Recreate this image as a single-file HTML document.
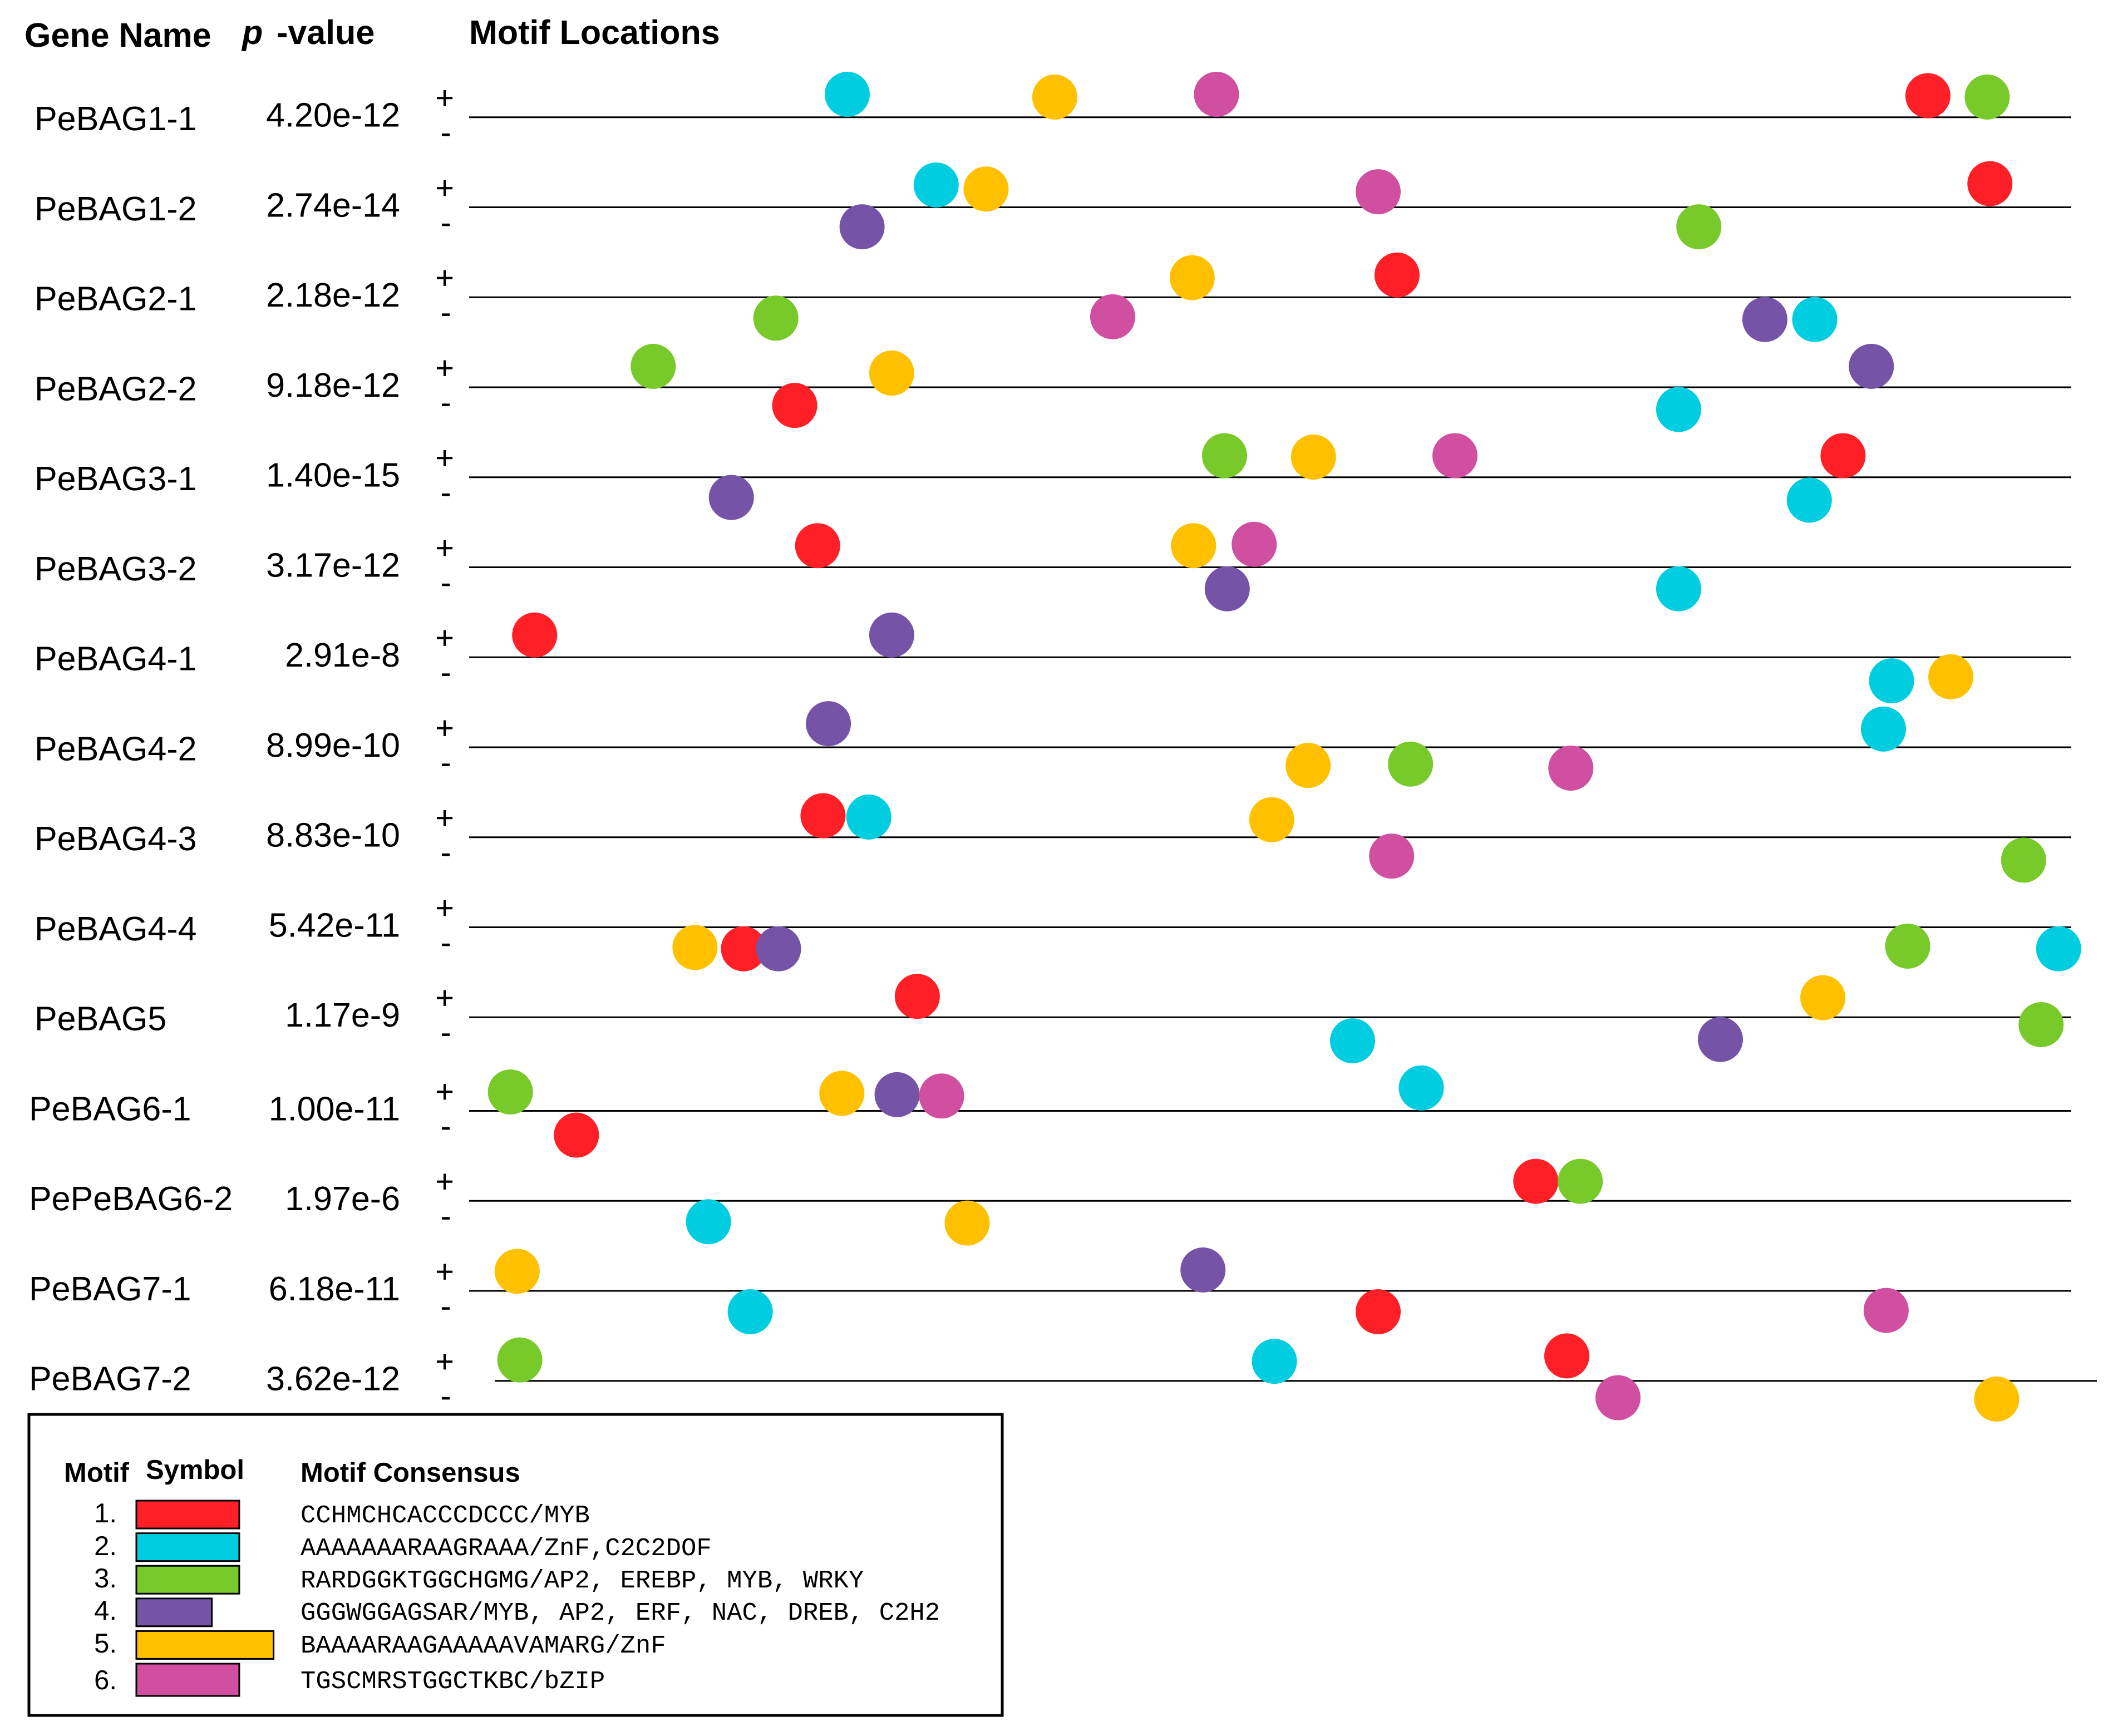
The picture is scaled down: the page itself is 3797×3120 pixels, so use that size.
<!DOCTYPE html>
<html lang="en">
<head>
<meta charset="utf-8">
<title>PeBAG motif locations</title>
<style>
html,body{margin:0;padding:0;background:#fff;}
svg{display:block;}
text{font-family:"Liberation Sans",sans-serif;fill:#000;text-rendering:geometricPrecision;}
.head{font-weight:bold;font-size:61px;}
.row{font-size:61px;}
.pv{font-size:61px;text-anchor:end;}
.sign{font-size:58px;text-anchor:middle;}
.lh{font-weight:bold;font-size:49px;}
.num{font-size:49px;text-anchor:end;}
.cons{font-family:"Liberation Mono",monospace;font-size:45.6px;}
</style>
</head>
<body>
<svg id="chart" xmlns="http://www.w3.org/2000/svg" width="3797" height="3120" viewBox="0 0 3797 3120">
  <rect x="0" y="0" width="3797" height="3120" fill="#fff"/>
  <text class="head" x="44" y="84">Gene Name</text>
  <text class="head" x="435" y="79" font-style="italic">p</text>
  <text class="head" x="497" y="79">-value</text>
  <text class="head" x="843" y="79">Motif Locations</text>
  <g id="rows"></g>
  <g id="hits"></g>
  <g>
    <rect x="52" y="2542" width="1749" height="541" fill="#fff" stroke="#000" stroke-width="5"/>
    <text class="lh" x="115" y="2663">Motif</text>
    <text class="lh" x="262" y="2658">Symbol</text>
    <text class="lh" x="540" y="2663">Motif Consensus</text>
    <g id="legend-rows"></g>
  </g>
</svg>
<script>
// Gene rows
const geneNames = ["PeBAG1-1","PeBAG1-2","PeBAG2-1","PeBAG2-2","PeBAG3-1","PeBAG3-2","PeBAG4-1","PeBAG4-2","PeBAG4-3","PeBAG4-4","PeBAG5","PeBAG6-1","PePeBAG6-2","PeBAG7-1","PeBAG7-2"];
const pValues = ["4.20e-12","2.74e-14","2.18e-12","9.18e-12","1.40e-15","3.17e-12","2.91e-8","8.99e-10","8.83e-10","5.42e-11","1.17e-9","1.00e-11","1.97e-6","6.18e-11","3.62e-12"];

// Motif id of each hit, per gene
const hitMotifs = [
  [2,5,6,1,3],
  [4,2,5,6,3,1],
  [3,6,5,1,4,2],
  [3,1,5,2,4],
  [4,3,5,6,2,1],
  [1,5,6,4,2],
  [1,4,2,5],
  [4,5,3,6,2],
  [1,2,5,6,3],
  [5,1,4,3,2],
  [1,2,4,5,3],
  [3,1,5,4,6,2],
  [2,5,1,3],
  [5,2,4,1,6],
  [3,2,1,6,5]
];
// Position of each hit along the sequence (0..1189 units)
const hitPositions = [
  [280,434,554,1082,1126],
  [291,346,383,674,912,1128],
  [227,477,536,688,961,998],
  [136,241,313,897,1040],
  [194,560,626,731,994,1019],
  [258,537,582,562,897],
  [48,313,1055,1099],
  [266,622,698,817,1049],
  [262,296,595,684,1153],
  [167,203,229,1067,1179],
  [332,655,928,1004,1166],
  [30,79,276,317,350,706],
  [177,369,791,824],
  [35,208,544,674,1051],
  [18,578,795,833,1114]
];
// Signed strand level of each hit (negative: + strand, positive: - strand)
const hitLevels = [
  [-17,-15,-17,-16,-15],
  [14.5,-16.5,-13.5,-11.5,14.5,-17.5],
  [15.5,14.5,-14.5,-16.5,16.5,16.5],
  [-15.5,13.5,-10.5,16.5,-15.5],
  [15,-16,-15,-16,17,-16],
  [-16,-16,-17,16,16],
  [-16.5,-16.5,17.5,14.5],
  [-17.5,13.5,12.5,15.5,-13.5],
  [-16,-15,-13,14,17],
  [15,16,16,14,16],
  [-15.5,17.5,16.5,-14.5,5.5],
  [-14,18,-13,-12,-11,-17],
  [15.5,16.5,-14.5,-14.5],
  [-14.5,15.5,-15.5,15.5,14.5],
  [-15.5,-14.5,-18.5,12.5,13.5]
];

// Legend
const motifNumbers = ["1.","2.","3.","4.","5.","6."];
const motifColors = ["#FF1F26","#00CDE0","#78C92A","#7554A8","#FFC000","#D04FA0"];
const motifSequences = ["CCHMCHCACCCDCCC","AAAAAAARAAGRAAA","RARDGGKTGGCHGMG","GGGWGGAGSAR","BAAAARAAGAAAAAVAMARG","TGSCMRSTGGCTKBC"];
const motifFamilies = ["MYB","ZnF,C2C2DOF","AP2, EREBP, MYB, WRKY","MYB, AP2, ERF, NAC, DREB, C2H2","ZnF","bZIP"];

// Axis functions
const NS = "http://www.w3.org/2000/svg";
const seqMax = 1189;
function rowY(i){ return 210.7 + 161.75*i + (i >= 11 ? 6.5 : 0); }
function rowStart(i){ return i === 14 ? 889 : 843; }
function xScale(i,pos){ return rowStart(i) + 1.5 + pos/seqMax*2879; }
function levelScale(v){ return v*2.4216; }
function make(tag,parent,attrs){
  const el = document.createElementNS(NS,tag);
  for (const k in attrs) el.setAttribute(k,attrs[k]);
  parent.appendChild(el);
  return el;
}

const rowsG = document.getElementById("rows");
geneNames.forEach(function(name,i){
  const y = rowY(i);
  const late = i >= 11;
  const label = make("text",rowsG,{class:"row",x:late?52:62,y:y+(late?17:23.3)});
  label.textContent = name;
  
  
  const pv = make("text",rowsG,{class:"pv",x:719,y:y+17});
  pv.textContent = pValues[i];
  
  
  const plus = make("text",rowsG,{class:"sign",x:799,y:y-15});
  plus.textContent = "+";
  
  
  const minus = make("text",rowsG,{class:"sign",x:801,y:y+47});
  minus.textContent = "-";
  
  
  const line = make("line",rowsG,{x1:rowStart(i),x2:rowStart(i)+2879,y1:y,y2:y,stroke:"#000","stroke-width":3});
  
  
});

const hitsG = document.getElementById("hits");
hitMotifs.forEach(function(list,i){
  list.forEach(function(m,j){
    const c = make("circle",hitsG,{
      cx:xScale(i,hitPositions[i][j]),
      cy:rowY(i)+levelScale(hitLevels[i][j]),
      r:40.5,
      fill:motifColors[m-1]
    });
    
    
  });
});

// Legend entries: swatch width follows the motif length
const legendG = document.getElementById("legend-rows");
const legendNumBaselines = [2736,2795,2853,2911,2970,3036];
const legendTextBaselines = [2736,2795,2853,2911,2970,3034];
motifNumbers.forEach(function(n,i){
  const num = make("text",legendG,{class:"num",x:210,y:legendNumBaselines[i]});
  num.textContent = n;
  
  
  const sw = make("rect",legendG,{x:245,y:2697+58.6*i,width:motifSequences[i].length*12.33,height:i===5?58:50,fill:motifColors[i],stroke:"#000","stroke-width":3});
  
  
  const t = make("text",legendG,{class:"cons",x:540,y:legendTextBaselines[i]});
  t.textContent = motifSequences[i] + "/" + motifFamilies[i];
  
  
});
</script>
</body>
</html>
